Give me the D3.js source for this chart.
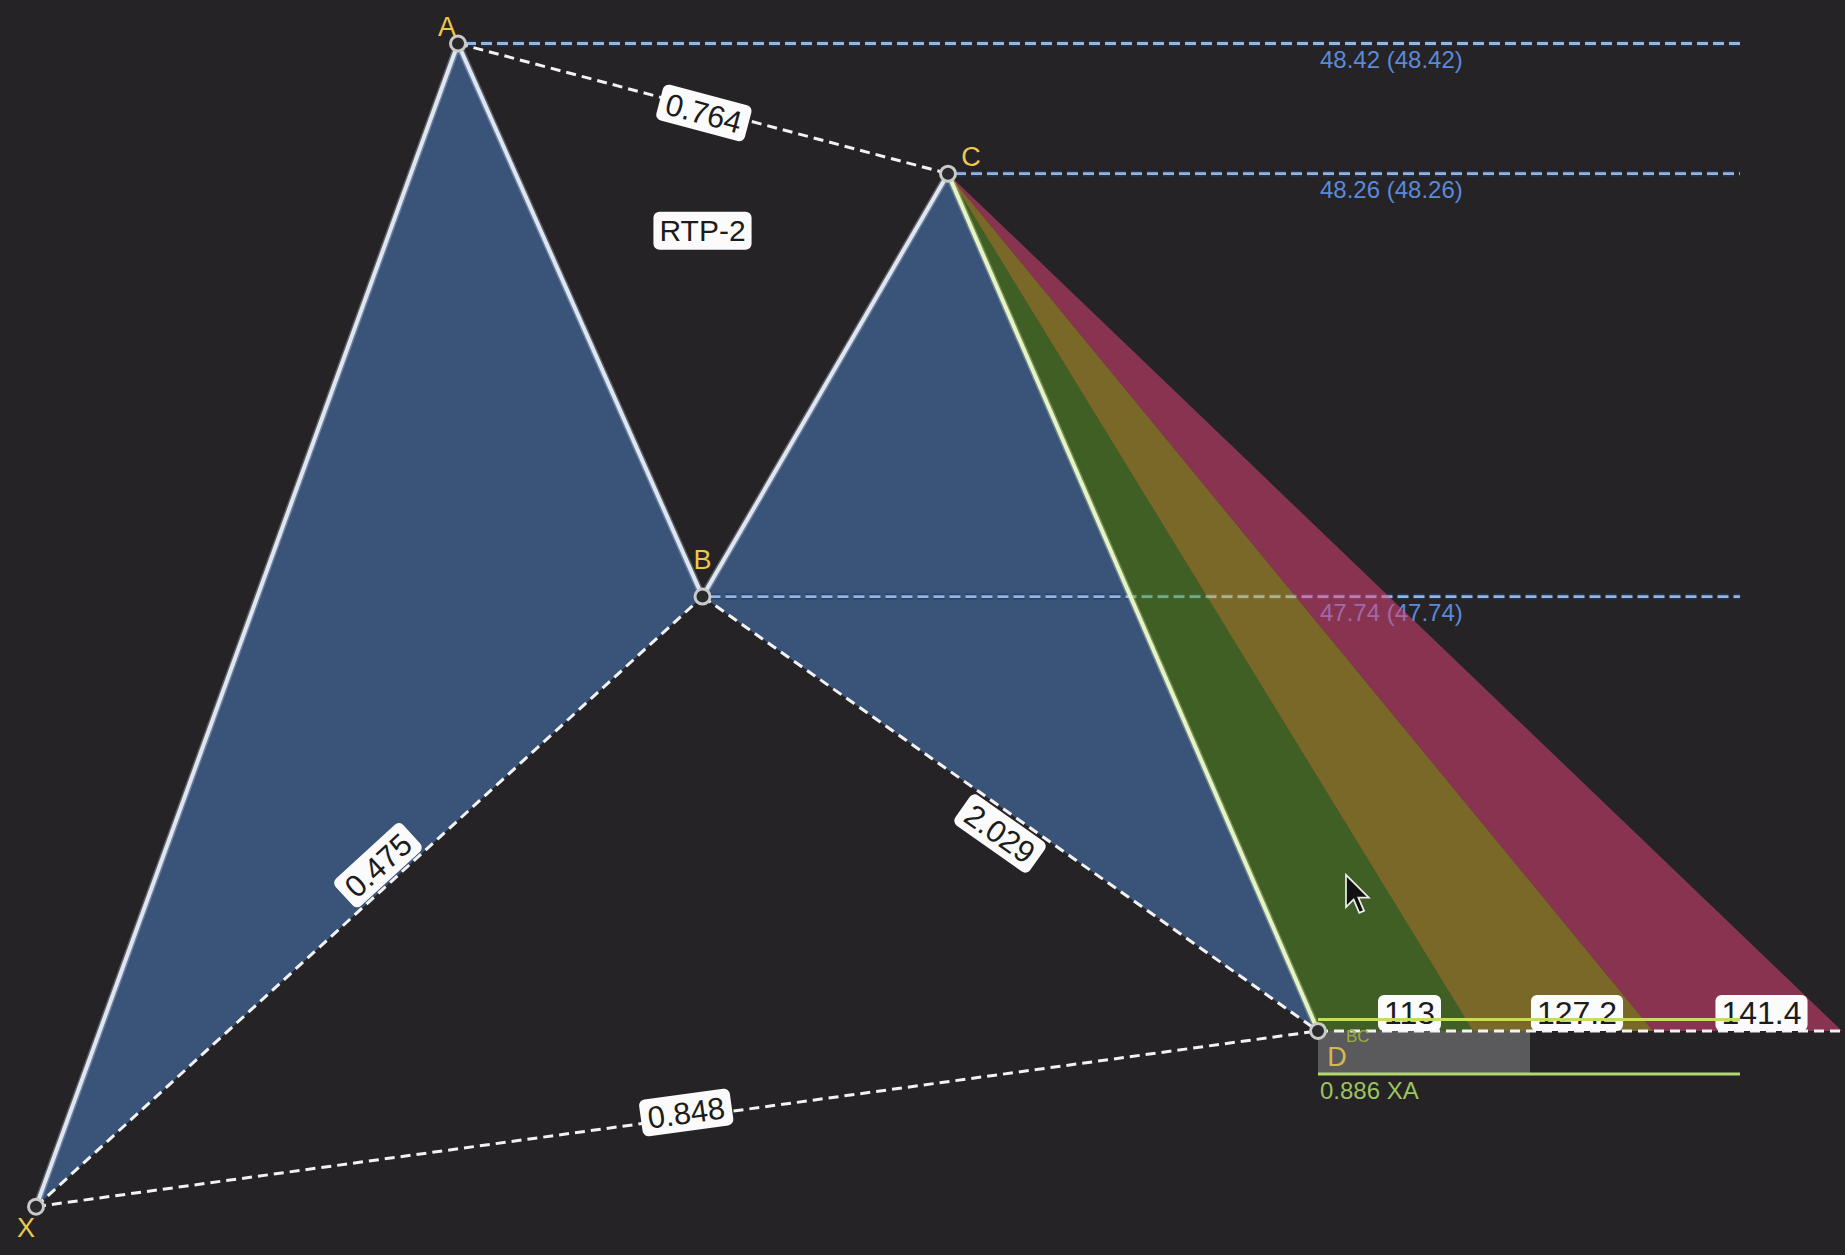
<!DOCTYPE html>
<html>
<head>
<meta charset="utf-8">
<script src="https://cdn.jsdelivr.net/npm/d3@7"></script>
<style>
  body { margin: 0; background: #252326; overflow: hidden; }
  svg { display: block; }
</style>
</head>
<body>
<script>
// pattern points (bar index, price)
const pointNames = ["X", "A", "B", "C", "D"];
const pointBars = [0, 42.2, 66.65, 91.2, 128.2];
const pointPrices = [46.99, 48.42, 47.74, 48.26, 47.206];

// ratio labels on the dashed legs
const ratioLegs = [["X", "B"], ["A", "C"], ["B", "D"], ["X", "D"]];
const ratioValues = ["0.475", "0.764", "2.029", "0.848"];

// horizontal price levels
const levelPoints = ["A", "C", "B"];
const levelEndBar = 170.4;

// fan from C to the D level
const fanBars = [143.7, 161.7, 180.6];
const fanLabels = ["113", "127.2", "141.4"];

// PRZ
const bcMultiple = 2.0;
const xaRatio = 0.886;
const przEndBar = 149.4;

const patternName = "RTP-2";
const cursorPos = [131, 47.398];

const W = 1845, H = 1255;

const x = d3.scaleLinear().domain([0, 180.9]).range([36, 1845]);
const y = d3.scaleLinear().domain([48.42, 47.74]).range([43.5, 596.6]);

const pts = {};
pointNames.forEach((n, i) => {
  pts[n] = { name: n, px: x(pointBars[i]), py: y(pointPrices[i]), price: pointPrices[i] };
});

const svg = d3.select("body").append("svg").attr("width", W).attr("height", H);
svg.append("rect").attr("width", W).attr("height", H).attr("fill", "#252326");

const font = "'Liberation Sans', Arial, sans-serif";
const line = d3.line().x((d) => d.px).y((d) => d.py);

// blue triangles
[["X", "A", "B"], ["B", "C", "D"]].forEach((tri) => {
  svg.append("path")
    .attr("d", line(tri.map((n) => pts[n])) + "Z")
    .attr("fill", "#3a5479");
});

// horizontal levels A, C, B
levelPoints.forEach((n) => {
  const p = pts[n];
  svg.append("line")
    .attr("x1", p.px + 7).attr("x2", x(levelEndBar))
    .attr("y1", p.py).attr("y2", p.py)
    .attr("stroke", "#1f3b68").attr("stroke-width", 6).attr("opacity", 0.7)
    .attr("stroke-dasharray", "11,5");
  svg.append("line")
    .attr("x1", p.px + 7).attr("x2", x(levelEndBar))
    .attr("y1", p.py).attr("y2", p.py)
    .attr("stroke", "#95b4de").attr("stroke-width", 2.8)
    .attr("stroke-dasharray", "11,5");
  const f = d3.format(".2f");
  svg.append("text")
    .attr("x", pts.D.px + 2).attr("y", p.py + 24)
    .attr("font-family", font).attr("font-size", 24)
    .attr("fill", "#5a8ad8")
    .text(`${f(p.price)} (${f(p.price)})`);
});

// fan bands from C
const dLevel = pts.D.py;
const fanEdges = [pts.D.px].concat(fanBars.map((b) => x(b)));
const fanColors = ["#5a9b22", "#cfad2c", "#eb457a"];
fanColors.forEach((c, i) => {
  svg.append("path")
    .attr("d", line([pts.C, { px: fanEdges[i], py: dLevel }, { px: fanEdges[i + 1], py: dLevel }]) + "Z")
    .attr("fill", c)
    .attr("opacity", 0.5);
});

// PRZ box
const bcLevel = y(pts.C.price - bcMultiple * (pts.C.price - pts.B.price));
const xaLevel = y(pts.A.price - xaRatio * (pts.A.price - pts.X.price));
svg.append("rect")
  .attr("x", pts.D.px).attr("y", dLevel)
  .attr("width", x(przEndBar) - pts.D.px).attr("height", xaLevel - dLevel)
  .attr("fill", "#5a5a5c");
svg.append("line")
  .attr("x1", pts.D.px).attr("x2", x(levelEndBar))
  .attr("y1", xaLevel).attr("y2", xaLevel)
  .attr("stroke", "#b2d872").attr("stroke-width", 3);
svg.append("text")
  .attr("x", pts.D.px + 2).attr("y", xaLevel + 25)
  .attr("font-family", font).attr("font-size", 24)
  .attr("fill", "#9cc45e")
  .text(`${xaRatio} XA`);

// dashed legs
const dashed = (a, b) => svg.append("line")
  .attr("x1", a.px).attr("y1", a.py).attr("x2", b.px).attr("y2", b.py)
  .attr("stroke", "#f2f2f2").attr("stroke-width", 3)
  .attr("stroke-dasharray", "10,6");
ratioLegs.forEach(([a, b]) => dashed(pts[a], pts[b]));
dashed(pts.D, { px: W + 10, py: dLevel });

// solid legs (soft glow + line)
[["X", "A", "B", "C"], ["C", "D"]].forEach((legs, i) => {
  svg.append("path")
    .attr("d", line(legs.map((n) => pts[n])))
    .attr("fill", "none").attr("stroke", i ? "#e6f3c2" : "#dde6f2")
    .attr("stroke-opacity", 0.3)
    .attr("stroke-width", 7).attr("stroke-linejoin", "round");
  svg.append("path")
    .attr("d", line(legs.map((n) => pts[n])))
    .attr("fill", "none").attr("stroke", i ? "#e6f3c2" : "#dde6f2")
    .attr("stroke-width", 4).attr("stroke-linejoin", "round");
});

// white label box helper
function boxLabel(cx, cy, angle, txt, size, padX, h) {
  const g = svg.append("g").attr("transform", `translate(${cx},${cy}) rotate(${angle})`);
  const r = g.append("rect").attr("fill", "#fbfbfb").attr("rx", 6);
  const t = g.append("text")
    .attr("text-anchor", "middle").attr("dy", "0.36em")
    .attr("font-family", font).attr("font-size", size)
    .attr("fill", "#1c1c1c").text(txt);
  const w = t.node().getComputedTextLength() + padX * 2;
  r.attr("x", -w / 2).attr("y", -h / 2).attr("width", w).attr("height", h);
  return g;
}

// ratio labels
const labelLayout = { XB: [31, 21], AC: [2, -4], BD: [3, -22], XD: [10, 5] };
ratioLegs.forEach(([a, b], i) => {
  const p = pts[a], q = pts[b];
  const dx = q.px - p.px, dy = q.py - p.py;
  const len = Math.hypot(dx, dy);
  const ux = dx / len, uy = dy / len;
  const ang = Math.atan2(dy, dx);
  const upx = Math.sin(ang), upy = -Math.cos(ang);
  const [along, up] = labelLayout[a + b];
  const cx = (p.px + q.px) / 2 + ux * along + upx * up;
  const cy = (p.py + q.py) / 2 + uy * along + upy * up;
  boxLabel(cx, cy, ang * 180 / Math.PI, ratioValues[i], 31, 7, 37);
});

boxLabel(pts.B.px, pts.C.py + 57, 0, patternName, 30, 6, 38);

// fan labels, then 2.0 BC line over them
fanLabels.forEach((l, i) => {
  const mid = (fanEdges[i] + fanEdges[i + 1]) / 2 + 14;
  boxLabel(mid, dLevel - 18, 0, l, 32, 6, 36);
});
svg.append("line")
  .attr("x1", pts.D.px).attr("x2", x(levelEndBar))
  .attr("y1", bcLevel).attr("y2", bcLevel)
  .attr("stroke", "#c6dc5c").attr("stroke-width", 3);
svg.append("text")
  .attr("x", pts.D.px + 28).attr("y", dLevel + 11)
  .attr("font-family", font).attr("font-size", 17)
  .attr("fill", "#9aae3e")
  .text("BC");

// points and letters
const letterOffset = { X: [-10, 21], A: [-11, -17], B: [0, -37], C: [23, -17], D: [19, 25] };
pointNames.forEach((n) => {
  const p = pts[n];
  svg.append("circle")
    .attr("cx", p.px).attr("cy", p.py).attr("r", 7.5)
    .attr("fill", "#2a2a2c").attr("stroke", "#c9c9c9").attr("stroke-width", 3);
  svg.append("text")
    .attr("x", p.px + letterOffset[n][0]).attr("y", p.py + letterOffset[n][1])
    .attr("text-anchor", "middle").attr("dy", "0.36em")
    .attr("font-family", font).attr("font-size", 27)
    .attr("fill", n === "D" ? "#d6b94e" : "#ecc94a")
    .text(n);
});

// mouse pointer left in the screenshot
svg.append("path")
  .attr("transform", `translate(${x(cursorPos[0])},${y(cursorPos[1])}) scale(1.9)`)
  .attr("d", "M0,0 L0,17 L4,13 L7,20 L9.5,19 L6.5,12 L12,12 Z")
  .attr("fill", "#111").attr("stroke", "#eeeeee").attr("stroke-width", 0.9);
</script>
</body>
</html>
